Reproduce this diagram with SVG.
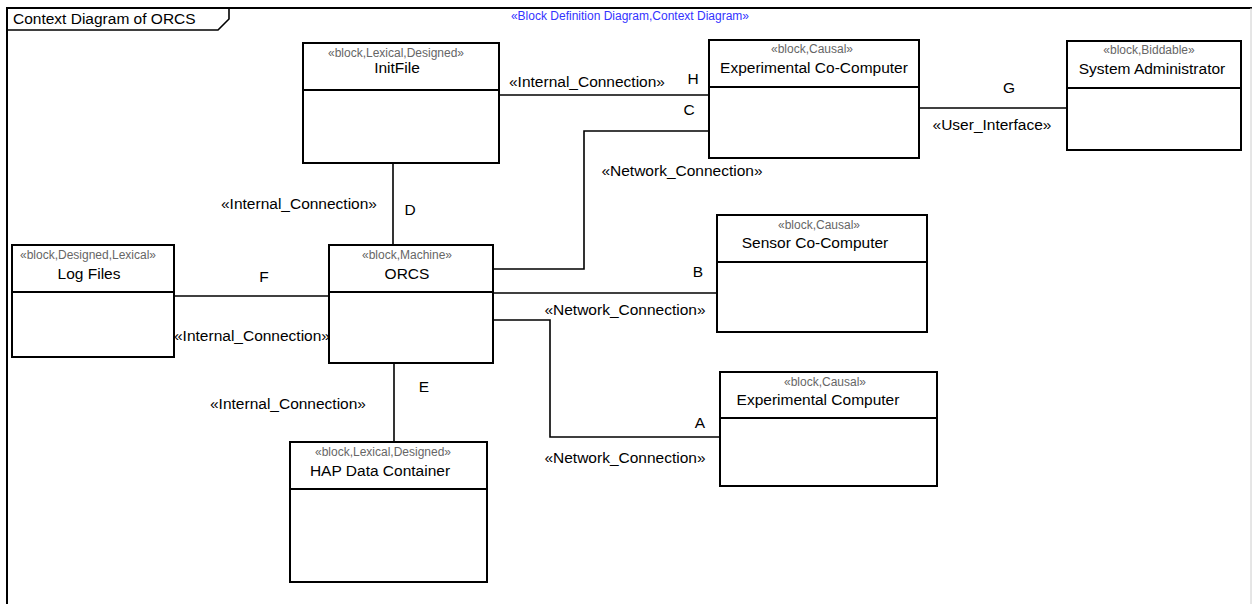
<svg xmlns="http://www.w3.org/2000/svg" width="1252" height="604" viewBox="0 0 1252 604">
  <style>
    text { font-family: "Liberation Sans", Arial, sans-serif; }
    .box { fill: #fff; stroke: #000; stroke-width: 2; }
    .div { stroke: #000; stroke-width: 2; }
    .st { font-size: 12px; fill: #666; text-anchor: middle; }
    .nm { font-size: 15.5px; fill: #000; text-anchor: middle; }
    .lb { font-size: 15.5px; fill: #000; text-anchor: middle; }
    .conn { fill: none; stroke: #000; stroke-width: 1.6; }
  </style>
  <rect width="1252" height="604" fill="#fff"/>

  <!-- diagram frame -->
  <g id="frame">
    <path d="M7,604 V8 H1252" fill="none" stroke="#000" stroke-width="2"/>
    <line x1="1251" y1="8" x2="1251" y2="604" stroke="#ccc" stroke-width="1"/>
    <path d="M7,30 H218 L229,19 V8" fill="none" stroke="#000" stroke-width="1.6"/>
    <text x="13" y="24" font-size="15.5px">Context Diagram of ORCS</text>
    <text x="630" y="20" font-size="12px" fill="#3333ff" text-anchor="middle">«Block Definition Diagram,Context Diagram»</text>
  </g>

  <!-- connectors -->
  <g id="connectors">
    <line class="conn" x1="499" y1="95" x2="709" y2="95"/>
    <polyline class="conn" points="709,131 584,131 584,269 493,269"/>
    <line class="conn" x1="919" y1="108" x2="1067" y2="108"/>
    <line class="conn" x1="393" y1="163" x2="393" y2="245"/>
    <line class="conn" x1="174" y1="296" x2="329" y2="296"/>
    <line class="conn" x1="493" y1="293" x2="717" y2="293"/>
    <polyline class="conn" points="493,320 550,320 550,437 720,437"/>
    <line class="conn" x1="394" y1="363" x2="394" y2="442"/>

    <text class="lb" x="587" y="87">«Internal_Connection»</text>
    <text class="lb" x="693" y="84">H</text>
    <text class="lb" x="689" y="115">C</text>
    <text class="lb" x="682" y="176">«Network_Connection»</text>
    <text class="lb" x="1009" y="93">G</text>
    <text class="lb" x="992" y="130">«User_Interface»</text>
    <text class="lb" x="299" y="209">«Internal_Connection»</text>
    <text class="lb" x="410" y="215">D</text>
    <text class="lb" x="264" y="282">F</text>
    <text class="lb" x="252" y="341">«Internal_Connection»</text>
    <text class="lb" x="424" y="392">E</text>
    <text class="lb" x="288" y="409">«Internal_Connection»</text>
    <text class="lb" x="698" y="277">B</text>
    <text class="lb" x="625" y="315">«Network_Connection»</text>
    <text class="lb" x="700" y="428">A</text>
    <text class="lb" x="625" y="463">«Network_Connection»</text>
  </g>

  <g id="initfile">
    <rect class="box" x="303" y="43" width="196" height="120"/>
    <line class="div" x1="303" y1="90" x2="499" y2="90"/>
    <text class="st" x="396" y="57">«block,Lexical,Designed»</text>
    <text class="nm" x="397" y="73">InitFile</text>
  </g>

  <g id="experimental-co-computer">
    <rect class="box" x="709" y="40" width="210" height="118"/>
    <line class="div" x1="709" y1="87" x2="919" y2="87"/>
    <text class="st" x="812" y="53">«block,Causal»</text>
    <text class="nm" x="814" y="73">Experimental Co-Computer</text>
  </g>

  <g id="system-administrator">
    <rect class="box" x="1067" y="41" width="174" height="109" stroke-width="2.5"/>
    <line class="div" x1="1067" y1="88" x2="1241" y2="88" stroke-width="2.5"/>
    <text class="st" x="1149" y="54">«block,Biddable»</text>
    <text class="nm" x="1152" y="74">System Administrator</text>
  </g>

  <g id="log-files">
    <rect class="box" x="12" y="245" width="162" height="112"/>
    <line class="div" x1="12" y1="292" x2="174" y2="292"/>
    <text class="st" x="88" y="259">«block,Designed,Lexical»</text>
    <text class="nm" x="89" y="279">Log Files</text>
  </g>

  <g id="orcs">
    <rect class="box" x="329" y="245" width="164" height="118"/>
    <line class="div" x1="329" y1="292" x2="493" y2="292"/>
    <text class="st" x="407" y="259">«block,Machine»</text>
    <text class="nm" x="407" y="279">ORCS</text>
  </g>

  <g id="sensor-co-computer">
    <rect class="box" x="717" y="215" width="210" height="117"/>
    <line class="div" x1="717" y1="262" x2="927" y2="262"/>
    <text class="st" x="819" y="229">«block,Causal»</text>
    <text class="nm" x="815" y="248">Sensor Co-Computer</text>
  </g>

  <g id="experimental-computer">
    <rect class="box" x="720" y="372" width="217" height="114"/>
    <line class="div" x1="720" y1="418" x2="937" y2="418"/>
    <text class="st" x="825" y="386">«block,Causal»</text>
    <text class="nm" x="818" y="405">Experimental Computer</text>
  </g>

  <g id="hap-data-container">
    <rect class="box" x="290" y="442" width="197" height="140"/>
    <line class="div" x1="290" y1="489" x2="487" y2="489"/>
    <text class="st" x="383" y="456">«block,Lexical,Designed»</text>
    <text class="nm" x="380" y="476">HAP Data Container</text>
  </g>
</svg>
